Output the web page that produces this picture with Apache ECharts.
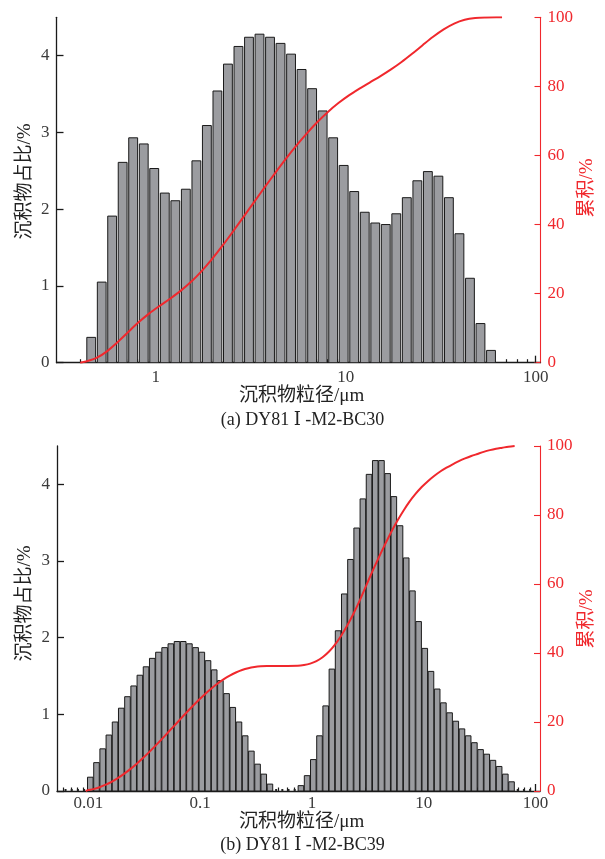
<!DOCTYPE html>
<html><head><meta charset="utf-8">
<script src="https://cdn.jsdelivr.net/npm/echarts@6/dist/echarts.min.js"></script>
<style>html,body{margin:0;padding:0;background:#fff}#c{width:605px;height:859px}</style>
</head><body><div id="c"></div>
<script>
// ---------- (a) DY81 I -M2-BC30 ----------
const sizesA = [0.457,0.519,0.589,0.669,0.760,0.864,0.981,1.115,1.267,1.439,1.635,1.857,2.110,2.397,2.723,3.094,3.515,3.993,4.536,5.153,5.854,6.651,7.556,8.584,9.752,11.08,12.59,14.30,16.24,18.45,20.96,23.82,27.06,30.74,34.92,39.67,45.07,51.20,58.17];
const valuesA = [0.33,1.05,1.91,2.61,2.93,2.85,2.53,2.21,2.11,2.26,2.63,3.09,3.54,3.89,4.12,4.24,4.28,4.24,4.16,4.02,3.82,3.57,3.28,2.93,2.57,2.23,1.96,1.82,1.80,1.94,2.15,2.37,2.49,2.43,2.15,1.68,1.10,0.51,0.16];
const cumXA = [0.40,0.428,0.487,0.553,0.628,0.714,0.811,0.921,1.046,1.189,1.350,1.534,1.743,1.980,2.249,2.555,2.903,3.298,3.746,4.256,4.835,5.493,6.241,7.089,8.054,9.149,10.39,11.81,13.42,15.24,17.31,19.67,22.35,25.39,28.84,32.77,37.22,42.29,48.04,54.58,62.0,66.5];
const cumYA = [0,0.33,1.38,3.29,5.90,8.83,11.68,14.21,16.42,18.53,20.79,23.42,26.51,30.05,33.94,38.06,42.30,46.58,50.82,54.98,59.00,62.82,66.39,69.67,72.60,75.17,77.40,79.36,81.18,82.98,84.92,87.07,89.44,91.93,94.36,96.51,98.19,99.29,99.80,99.96,100,100];
const majorTicksA = [1,10,100];
const minorTicksA = [0.4,0.5,0.6,0.7,0.8,0.9,2,3,4,5,6,7,8,9,20,30,40,50,60,70,80,90];

// ---------- (b) DY81 I -M2-BC39 ----------
const sizesB = [0.00626,0.00711,0.00808,0.00918,0.01042,0.01184,0.01345,0.01528,0.01736,0.01972,0.02241,0.02546,0.02892,0.03285,0.03733,0.04240,0.04817,0.05473,0.06217,0.07063,0.08024,0.09116,0.1036,0.1177,0.1337,0.1519,0.1725,0.1960,0.2227,0.2529,0.2874,0.3265,0.3709,0.4213,0.4786,0.5438,0.6177,0.7018,0.7973,0.9057,1.029,1.169,1.328,1.509,1.714,1.947,2.212,2.513,2.855,3.243,3.685,4.186,4.756,5.403,6.138,6.973,7.922,9.000,10.22,11.61,13.19,14.99,17.03,19.35,21.98,24.97,28.37,32.23,36.61,41.59,47.25,53.68,60.98,69.28,78.70,89.41];
const valuesB = [0,0,0,0,0.18,0.37,0.55,0.73,0.90,1.08,1.23,1.37,1.51,1.62,1.73,1.81,1.87,1.92,1.95,1.95,1.92,1.87,1.81,1.70,1.58,1.44,1.27,1.09,0.90,0.72,0.52,0.35,0.22,0.09,0,0,0,0,0.07,0.20,0.41,0.72,1.11,1.59,2.09,2.57,3.02,3.43,3.81,4.13,4.31,4.31,4.14,3.84,3.46,3.04,2.61,2.21,1.86,1.56,1.33,1.15,1.02,0.91,0.81,0.72,0.63,0.54,0.48,0.40,0.32,0.22,0.12,0,0,0];
const cumXB = [0.0095,0.00978,0.01111,0.01262,0.01434,0.01629,0.01850,0.02102,0.02389,0.02713,0.03082,0.03502,0.03978,0.04519,0.05135,0.05833,0.06627,0.07528,0.08553,0.09716,0.1104,0.1254,0.1425,0.1618,0.1839,0.2089,0.2373,0.2696,0.3063,0.3480,0.3953,0.449,0.7480,0.8497,0.9654,1.097,1.246,1.416,1.608,1.827,2.075,2.358,2.679,3.043,3.457,3.927,4.462,5.069,5.759,6.542,7.432,8.444,9.589,10.89,12.38,14.06,15.98,18.15,20.62,23.43,26.62,30.24,34.35,39.02,44.33,50.36,57.21,65.00];
const cumYB = [0,0.18,0.55,1.10,1.83,2.73,3.81,5.04,6.41,7.92,9.54,11.27,13.08,14.95,16.87,18.82,20.77,22.69,24.56,26.37,28.07,29.65,31.09,32.36,33.45,34.35,35.07,35.59,35.94,36.16,36.25,36.25,36.32,36.52,36.93,37.65,38.76,40.35,42.44,45.01,48.03,51.46,55.27,59.40,63.5,67.4,71.2,74.8,78.1,81.1,83.8,86.1,88.1,89.8,91.3,92.6,93.7,94.7,95.6,96.4,97.1,97.7,98.3,98.8,99.2,99.5,99.8,100];
const majorTicksB = [0.01,0.1,1,10,100];
const minorTicksB = [0.006,0.007,0.008,0.009,0.02,0.03,0.04,0.05,0.06,0.07,0.08,0.09,0.2,0.3,0.4,0.5,0.6,0.7,0.8,0.9,2,3,4,5,6,7,8,9,20,30,40,50,60,70,80,90];

const leftTicks = [0,1,2,3,4];
const rightTicks = [0,20,40,60,80,100];

// ---------- styling ----------
const SERIF = '"Liberation Serif","Times New Roman",serif';
const MIXED = '"Liberation Serif","DejaVu Serif","Noto Sans CJK SC",serif';
const RED = '#f0282d';
const INK = '#1a1a1a';
const LABEL = '#3a3a3a';

function barRender(sizes, frac) {
  return function (params, api) {
    const i = params.dataIndex;
    const x = api.value(0), v = api.value(1);
    const base = api.coord([x, 0]);
    const nb = i + 1 < sizes.length ? sizes[i + 1] : sizes[i - 1];
    const pitch = Math.abs(api.coord([nb, 0])[0] - base[0]);
    const w = pitch * frac;
    if (!(v > 0)) {
      return { type: 'rect', shape: { x: base[0] - 1, y: base[1] - 2, width: 2, height: 2 }, style: { fill: '#222' } };
    }
    const top = api.coord([x, v]);
    return {
      type: 'rect',
      shape: { x: base[0] - w / 2, y: top[1], width: w, height: base[1] - top[1] },
      style: { fill: '#9b9ca0', stroke: INK, lineWidth: 1 }
    };
  };
}

function xMain(gi, min, max, ticks, margin) {
  return {
    type: 'log', logBase: 10, gridIndex: gi, min: min, max: max, position: 'bottom',
    axisLine: { show: true, onZero: false, lineStyle: { color: INK, width: 1.3 } },
    axisTick: { show: true, inside: true, length: 7, customValues: ticks, lineStyle: { color: INK, width: 1.3 } },
    axisLabel: { show: true, customValues: ticks, margin: margin, color: LABEL, fontFamily: SERIF, fontSize: 17,
      formatter: function (v) { return String(+Number(v).toPrecision(6)); } },
    splitLine: { show: false }, minorTick: { show: false }
  };
}
function xMinor(gi, min, max, ticks) {
  return {
    type: 'log', logBase: 10, gridIndex: gi, min: min, max: max, position: 'bottom',
    axisLine: { show: false },
    axisTick: { show: true, inside: true, length: 3.5, customValues: ticks, lineStyle: { color: INK, width: 1.2 } },
    axisLabel: { show: false }, splitLine: { show: false }
  };
}
function yLeft(gi) {
  return {
    type: 'value', gridIndex: gi, min: 0, max: 4.5, position: 'left',
    axisLine: { show: true, lineStyle: { color: INK, width: 1.3 } },
    axisTick: { show: true, inside: true, length: 7, customValues: leftTicks, lineStyle: { color: INK, width: 1.3 } },
    axisLabel: { customValues: leftTicks, margin: 7, color: LABEL, fontFamily: SERIF, fontSize: 17 },
    splitLine: { show: false }
  };
}
function yRight(gi) {
  return {
    type: 'value', gridIndex: gi, min: 0, max: 100, interval: 20, position: 'right',
    axisLine: { show: true, lineStyle: { color: RED, width: 1.1 } },
    axisTick: { show: true, inside: true, length: 6, customValues: rightTicks, lineStyle: { color: RED, width: 1.1 } },
    axisLabel: { customValues: rightTicks, margin: 7, color: RED, fontFamily: SERIF, fontSize: 17 },
    splitLine: { show: false }
  };
}
function txt(text, x, y, size, color, rot) {
  return { type: 'text', x: x, y: y, rotation: rot || 0, silent: true,
    style: { text: text, font: size + 'px ' + MIXED, fill: color, textAlign: 'center', textVerticalAlign: 'middle' } };
}

const chart = echarts.init(document.getElementById('c'), null, { renderer: 'canvas' });
chart.setOption({
  animation: false,
  backgroundColor: '#fff',
  grid: [
    { left: 56.5, top: 17.3, width: 484, height: 345.4, containLabel: false },
    { left: 57, top: 446, width: 483, height: 345, containLabel: false }
  ],
  xAxis: [
    xMain(0, 0.3, 106, majorTicksA, 6),
    xMinor(0, 0.3, 106, minorTicksA),
    xMain(1, 0.00525, 109.6, majorTicksB, 4),
    xMinor(1, 0.00525, 109.6, minorTicksB)
  ],
  yAxis: [yLeft(0), yRight(0), yLeft(1), yRight(1)],
  series: [
    { type: 'custom', xAxisIndex: 0, yAxisIndex: 0, renderItem: barRender(sizesA, 0.84),
      encode: { x: 0, y: 1 }, data: sizesA.map(function (s, i) { return [s, valuesA[i]]; }), clip: true, z: 2 },
    { type: 'line', xAxisIndex: 0, yAxisIndex: 1, showSymbol: false, smooth: 0.3, z: 5,
      lineStyle: { color: RED, width: 2 }, data: cumXA.map(function (s, i) { return [s, cumYA[i]]; }) },
    { type: 'custom', xAxisIndex: 2, yAxisIndex: 2, renderItem: barRender(sizesB, 0.9),
      encode: { x: 0, y: 1 }, data: sizesB.map(function (s, i) { return [s, valuesB[i]]; }), clip: true, z: 2 },
    { type: 'line', xAxisIndex: 2, yAxisIndex: 3, showSymbol: false, smooth: 0.3, z: 5,
      lineStyle: { color: RED, width: 2 }, data: cumXB.map(function (s, i) { return [s, cumYB[i]]; }) }
  ],
  graphic: [
    txt('沉积物占比/%', 25.5, 181.5, 19, '#222', Math.PI / 2),
    txt('累积/%', 587.5, 188, 19, RED, Math.PI / 2),
    txt('沉积物粒径/μm', 301.7, 396, 19, '#222'),
    txt('(a) DY81 Ⅰ -M2-BC30', 302.5, 420.5, 18, '#222'),
    txt('沉积物占比/%', 25.5, 603.5, 19, '#222', Math.PI / 2),
    txt('累积/%', 587.5, 619, 19, RED, Math.PI / 2),
    txt('沉积物粒径/μm', 301.7, 822, 19, '#222'),
    txt('(b) DY81 Ⅰ -M2-BC39', 302.5, 845.5, 18, '#222')
  ]
});
</script></body></html>
